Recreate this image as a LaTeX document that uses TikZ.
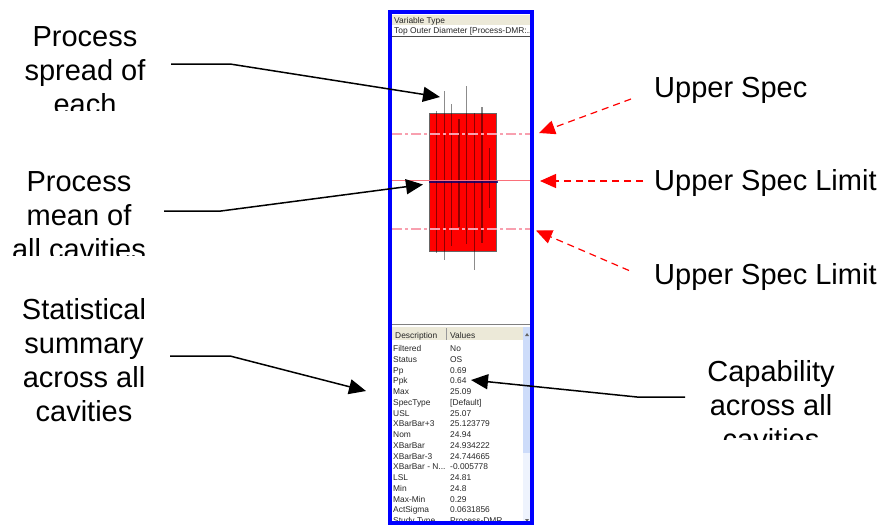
\documentclass[tikz,border=0pt]{standalone}
\usepackage{fontspec}
\setmainfont{Liberation Sans}
\usetikzlibrary{arrows.meta}
\definecolor{headbeige}{RGB}{236,233,216}
\definecolor{specpink}{RGB}{248,160,175}
\definecolor{scrollblue}{RGB}{205,220,250}
\definecolor{scrollpale}{RGB}{238,243,253}
\newcommand{\xbarnom}{XBarBar - N{.}{.}{.}}
\tikzset{callout/.style={align=center,inner sep=0pt,font=\fontsize{29}{34}\selectfont},
	speclabel/.style={anchor=base west,inner sep=0pt,font=\fontsize{29}{34}\selectfont},
	small/.style={anchor=base west,inner sep=0pt,text=black!85,font=\fontsize{8.4}{10}\selectfont},
	blackarrow/.style={draw=black,line width=1.5pt,-{Triangle[length=17pt,width=15pt]}},
	redarrow/.style={draw=red,line width=1.2pt,dash pattern=on 7pt off 5pt,-{Triangle[length=16pt,width=14pt]}},
	whisker/.style={draw=black,opacity=0.45,line width=1.1pt},
	specline/.style={draw=specpink,line width=2pt,dash pattern=on 10pt off 3pt on 3pt off 3pt}}

\begin{document}
\begin{tikzpicture}[x=1pt,y=-1pt]
	\useasboundingbox (0,0) rectangle (894,525);

	% window contents
	\fill[headbeige] (392,15) rectangle (530,25);
	\draw[black!70,line width=1pt] (392,36) -- (530,36);
	\node[small] (vartype) at (394,23) {Variable Type};
	\node[small] (topdia) at (394,33) {Top Outer Diameter [Process-DMR:...};

	% chart
	\fill[red] (429,113) rectangle (496,251);
	\draw[black!60,line width=0.8pt] (429,113) rectangle (496,251);
	\draw[whisker] (436.7,111) -- (436.7,253);
	\draw[whisker] (444.3,91) -- (444.3,260);
	\draw[whisker] (451.7,104) -- (451.7,246);
	\draw[whisker] (459,119) -- (459,227);
	\draw[whisker] (466.7,86) -- (466.7,244);
	\draw[whisker] (474.3,113) -- (474.3,270);
	\draw[whisker] (482,107) -- (482,243);
	\draw[whisker] (489.3,148) -- (489.3,208);
	\draw[specline] (392,133.5) -- (530,133.5);
	\draw[specline] (392,228.5) -- (530,228.5);
	\draw[specpink!70!red,line width=1pt] (392,180) -- (530,180);
	\draw[blue!45!black,opacity=0.8,line width=1.3pt] (429,182) -- (498,182);

	% table
	\draw[black!50,line width=1.5pt] (392,324.5) -- (530,324.5);
	\fill[headbeige] (392,327) rectangle (523,340);
	\draw[black!40] (446,328) -- (446,340);
	\fill[scrollblue] (523,327) rectangle (530,453);
	\fill[scrollpale] (523,453) rectangle (530,524);
	\fill[black!60] (527,333) -- (529,336) -- (525,336) -- cycle;
	\fill[black!60] (527,522) -- (529,519) -- (525,519) -- cycle;
	\node[small] (descr) at (395,338) {Description};
	\node[small] (vals) at (450,338) {Values};
	\foreach \lab/\val [count=\i from 0] in {Filtered/No,Status/OS,Pp/0.69,Ppk/0.64,Max/25.09,
		SpecType/{[Default]},USL/25.07,XBarBar+3/25.123779,Nom/24.94,XBarBar/24.934222,
		XBarBar-3/24.744665,\xbarnom/-0.005778,LSL/24.81,Min/24.8,Max-Min/0.29,
		ActSigma/0.0631856,Study Type/Process-DMR}
	{
		\node[small] (lab\i) at (393,351.5+10.75*\i) {\lab};
		\node[small] (val\i) at (450,351.5+10.75*\i) {\val};
	}

	% frame
	\draw[blue,line width=4pt] (390,12) rectangle (532,523);

	% clipped texts
	\begin{scope}
		\clip (0,0) rectangle (200,110);
		\node[callout] (spread) at (85,71) {Process\\spread of\\each};
	\end{scope}
	\begin{scope}
		\clip (0,150) rectangle (200,255);
		\node[callout] (mean) at (79,216) {Process\\mean of\\all cavities};
	\end{scope}
	\node[callout] (summary) at (84,360) {Statistical\\summary\\across all\\cavities};
	\begin{scope}
		\clip (650,340) rectangle (894,439);
		\node[callout] (capab) at (771,405) {Capability\\across all\\cavities};
	\end{scope}
	\node[speclabel] (upper) at (654,97) {Upper Spec};
	\node[speclabel] (target) at (654,190) {Upper Spec Limit};
	\node[speclabel] (lower) at (654,284) {Upper Spec Limit};

	% arrows
	\coordinate (spreadtip) at (440,97);
	\coordinate (meantip) at (423,184.5);
	\coordinate (summarytip) at (366,391);
	\coordinate (capabtip) at (471,380);
	\coordinate (uppertail) at (631,99);
	\coordinate (uppertip) at (539,133);
	\coordinate (targettail) at (643,181);
	\coordinate (targettip) at (540,181);
	\coordinate (lowertail) at (629,270.5);
	\coordinate (lowertip) at (536,230.5);

	\draw[blackarrow] (171,64) -- (230,64) -- (spreadtip);
	\draw[blackarrow] (164,211) -- (221,211) -- (meantip);
	\draw[blackarrow] (170,356) -- (230,356) -- (summarytip);
	\draw[blackarrow] (685,397) -- (637,397) -- (capabtip);
	\draw[redarrow] (uppertail) -- (uppertip);
	\draw[redarrow] (targettail) -- (targettip);
	\draw[redarrow] (lowertail) -- (lowertip);
\end{tikzpicture}
\end{document}
